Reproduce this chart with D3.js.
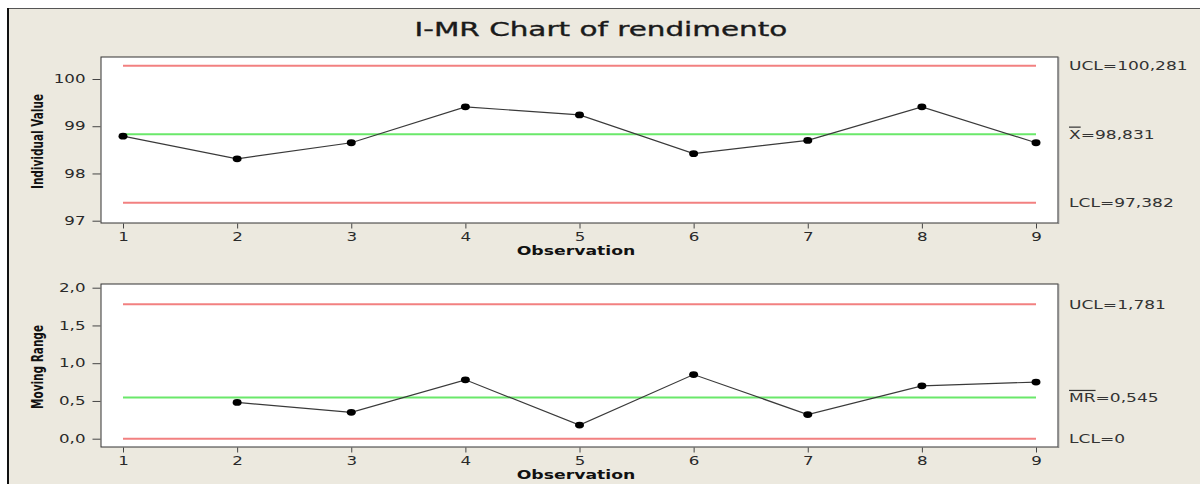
<!DOCTYPE html>
<html><head><meta charset="utf-8">
<script src="https://cdn.jsdelivr.net/npm/d3@7"></script>
<style>html,body{margin:0;padding:0;background:#fff;}svg{display:block;}</style>
</head><body>
<svg id="chart" width="1200" height="484"></svg>
<script>
// ---- data ----
const observations = [1, 2, 3, 4, 5, 6, 7, 8, 9];
const individualValues = [98.79, 98.31, 98.65, 99.41, 99.24, 98.42, 98.70, 99.41, 98.65];
const movingRanges = [null, 0.48, 0.35, 0.78, 0.18, 0.85, 0.32, 0.70, 0.75];
const iLimitValues = [100.281, 98.831, 97.382];
const iLimitTypes = ["UCL", "CL", "LCL"];
const iLimitLabels = [["UCL=100,281"], ["X", "=98,831"], ["LCL=97,382"]];
const mrLimitValues = [1.781, 0.545, 0];
const mrLimitTypes = ["UCL", "CL", "LCL"];
const mrLimitLabels = [["UCL=1,781"], ["MR", "=0,545"], ["LCL=0"]];
const iTicks = [97, 98, 99, 100];
const iTickLabels = ["97", "98", "99", "100"];
const mrTicks = [0, 0.5, 1, 1.5, 2];
const mrTickLabels = ["0,0", "0,5", "1,0", "1,5", "2,0"];
const titleText = "I-MR Chart of rendimento";
const xTitle = "Observation";

// ---- layout ----
const svg = d3.select("#chart");
const STRETCH = 1.45;
const font = "'DejaVu Sans', Verdana, sans-serif";
const red = "#f28080", green = "#6ae86a";

function stretch(sel, k) {
  sel.each(function () {
    const w = this.getComputedTextLength();
    d3.select(this).attr("textLength", w * k).attr("lengthAdjust", "spacingAndGlyphs");
  });
}

svg.append("rect").attr("x", 0).attr("y", 0).attr("width", 1200).attr("height", 484).attr("fill", "#fff");
svg.append("rect").attr("x", 8).attr("y", 9).attr("width", 1192).attr("height", 475).attr("fill", "#ece9df");
svg.append("line").attr("x1", 8).attr("x2", 1200).attr("y1", 8.5).attr("y2", 8.5).attr("stroke", "#555").attr("stroke-width", 1);
svg.append("line").attr("x1", 8).attr("x2", 8).attr("y1", 8).attr("y2", 484).attr("stroke", "#111").attr("stroke-width", 2);

const title = svg.append("text").attr("x", 601).attr("y", 36).attr("text-anchor", "middle")
  .attr("font-family", font).attr("font-size", 19).attr("fill", "#1a1a1a")
  .attr("stroke", "#1a1a1a").attr("stroke-width", 0.35).text(titleText);
stretch(title, 1.55);

const x = d3.scaleLinear().domain([1, 9]).range([123, 1036]);
const frameX0 = 101, frameX1 = 1058;

function panel(opts) {
  const { y, top, bottom, values, limits, types, labels, ticks, tickLabels, yTitle, titleY } = opts;
  const g = svg.append("g");
  g.append("rect").attr("x", frameX0).attr("y", top).attr("width", frameX1 - frameX0).attr("height", bottom - top)
    .attr("fill", "#fff").attr("stroke", "#333").attr("stroke-width", 1);
  g.append("line").attr("x1", frameX1 + 0.5).attr("x2", frameX1 + 0.5).attr("y1", top).attr("y2", bottom + 1)
    .attr("stroke", "#888").attr("stroke-width", 1.5);

  // y axis
  const ya = g.append("g").attr("transform", `translate(${frameX0 - 0.5},0)`)
    .call(d3.axisLeft(y).tickValues(ticks).tickSize(8).tickPadding(7).tickFormat((d, i) => tickLabels[i]));
  ya.select(".domain").remove();
  ya.selectAll(".tick line").attr("stroke", "#444");
  ya.selectAll(".tick text").attr("font-family", font).attr("font-size", 11.5).attr("fill", "#2a2a2a");
  stretch(ya.selectAll(".tick text"), STRETCH);

  // x axis
  const xa = g.append("g").attr("transform", `translate(0,${bottom + 0.5})`)
    .call(d3.axisBottom(x).tickValues(observations).tickSize(5).tickPadding(4).tickFormat(d3.format("d")));
  xa.select(".domain").remove();
  xa.selectAll(".tick line").attr("stroke", "#444");
  xa.selectAll(".tick text").attr("font-family", font).attr("font-size", 11.5).attr("fill", "#2a2a2a");
  stretch(xa.selectAll(".tick text"), STRETCH);

  // limit lines
  limits.forEach((v, i) => {
    g.append("line").attr("x1", x(observations[0])).attr("x2", x(observations[observations.length - 1]))
      .attr("y1", y(v)).attr("y2", y(v)).attr("stroke", types[i] === "CL" ? green : red).attr("stroke-width", 2);
    const t = g.append("text").attr("x", 1069).attr("y", y(v)).attr("dy", "0.36em")
      .attr("font-family", font).attr("font-size", 12).attr("fill", "#333");
    labels[i].forEach((s, j) => {
      const ts = t.append("tspan").text(s);
      if (labels[i].length > 1 && j === 0) ts.style("text-decoration", "overline");
    });
    stretch(t, 1.42);
  });

  // data
  const pts = observations.map((o, i) => ({ o, v: values[i] })).filter(d => d.v != null);
  g.append("path").datum(pts)
    .attr("d", d3.line().x(d => x(d.o)).y(d => y(d.v)))
    .attr("fill", "none").attr("stroke", "#3a3a3a").attr("stroke-width", 1.2);
  g.selectAll("ellipse.pt").data(pts).join("ellipse")
    .attr("cx", d => x(d.o)).attr("cy", d => y(d.v)).attr("rx", 4.5).attr("ry", 3.4).attr("fill", "#000");

  // axis titles
  const xt = g.append("text").attr("x", 576).attr("y", titleY).attr("text-anchor", "middle")
    .attr("font-family", font).attr("font-weight", "bold").attr("font-size", 11.5).attr("fill", "#111").text(xTitle);
  stretch(xt, 1.5);
  const cy = (top + bottom) / 2 + 1.5;
  g.append("text").attr("transform", `translate(43,${cy}) rotate(-90) scale(1,1.55)`)
    .attr("text-anchor", "middle").attr("font-family", font).attr("font-weight", "bold")
    .attr("font-size", 10.5).attr("fill", "#111").text(yTitle);
}

panel({
  y: d3.scaleLinear().domain([97, 100]).range([220.7, 79]),
  top: 57, bottom: 223, values: individualValues, limits: iLimitValues, types: iLimitTypes,
  labels: iLimitLabels, ticks: iTicks, tickLabels: iTickLabels, yTitle: "Individual Value", titleY: 255
});
panel({
  y: d3.scaleLinear().domain([0, 2]).range([438.7, 287.7]),
  top: 284, bottom: 447, values: movingRanges, limits: mrLimitValues, types: mrLimitTypes,
  labels: mrLimitLabels, ticks: mrTicks, tickLabels: mrTickLabels, yTitle: "Moving Range", titleY: 479
});
</script>
</body></html>
